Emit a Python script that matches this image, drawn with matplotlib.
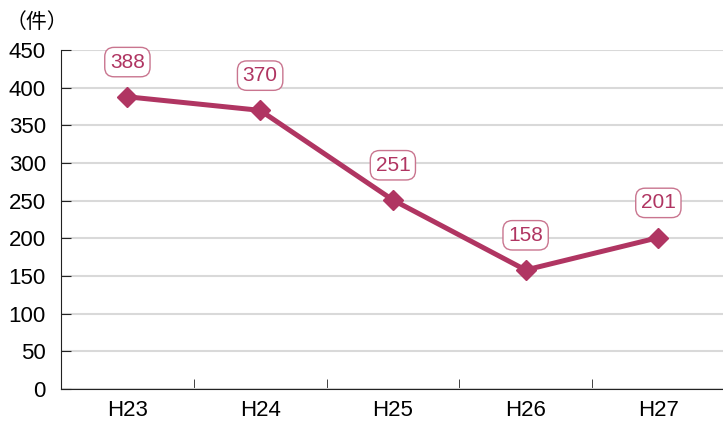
import numpy as np
import matplotlib.pyplot as plt
from matplotlib.ticker import MultipleLocator

plt.rcParams['font.family'] = ['Liberation Sans', 'Noto Sans CJK JP', 'DejaVu Sans']

# Data
years = ["H23", "H24", "H25", "H26", "H27"]
counts = [388, 370, 251, 158, 201]

line_color = "#B03562"
x = np.arange(len(years))

fig = plt.figure(figsize=(7.23, 4.21), dpi=100)
ax = fig.add_axes([0.0844, 0.076, 0.918, 0.805])

ax.plot(x, counts, color=line_color, linewidth=3.6, marker="D",
        markersize=10, zorder=3)

for xi, v in zip(x, counts):
    ax.annotate(str(v), (xi, v), xytext=(0, 25), textcoords="offset points",
                ha="center", va="center", fontsize=15, color=line_color,
                bbox=dict(boxstyle="round,pad=0.25,rounding_size=0.45",
                          fc="white", ec="#C9758F", lw=1.0))

ax.set_xlim(-0.5, 4.5)
ax.set_ylim(0, 450)
ax.yaxis.set_major_locator(MultipleLocator(50))
ax.grid(axis="y", color="#D9D9D9", linewidth=1.5, zorder=0)
ax.set_axisbelow(True)

# category labels centered, tick marks at boundaries
ax.set_xticks(x)
ax.set_xticklabels(years, fontsize=16)
ax.tick_params(axis="x", which="major", length=0, pad=8)
ax.set_xticks(np.arange(0.5, 4.5, 1.0), minor=True)
ax.tick_params(axis="x", which="minor", direction="in", length=7, color="#222222")
ax.tick_params(axis="y", direction="in", length=7, labelsize=16, pad=11,
               color="#222222")

for s in ["top", "right"]:
    ax.spines[s].set_visible(False)
ax.spines["left"].set_color("#222222")
ax.spines["bottom"].set_color("#222222")

fig.text(0.008, 0.948, "（件）", fontsize=15, ha="left", va="center",
         family=["Noto Sans CJK JP", "DejaVu Sans"])

fig.savefig("out.png", dpi=100)
